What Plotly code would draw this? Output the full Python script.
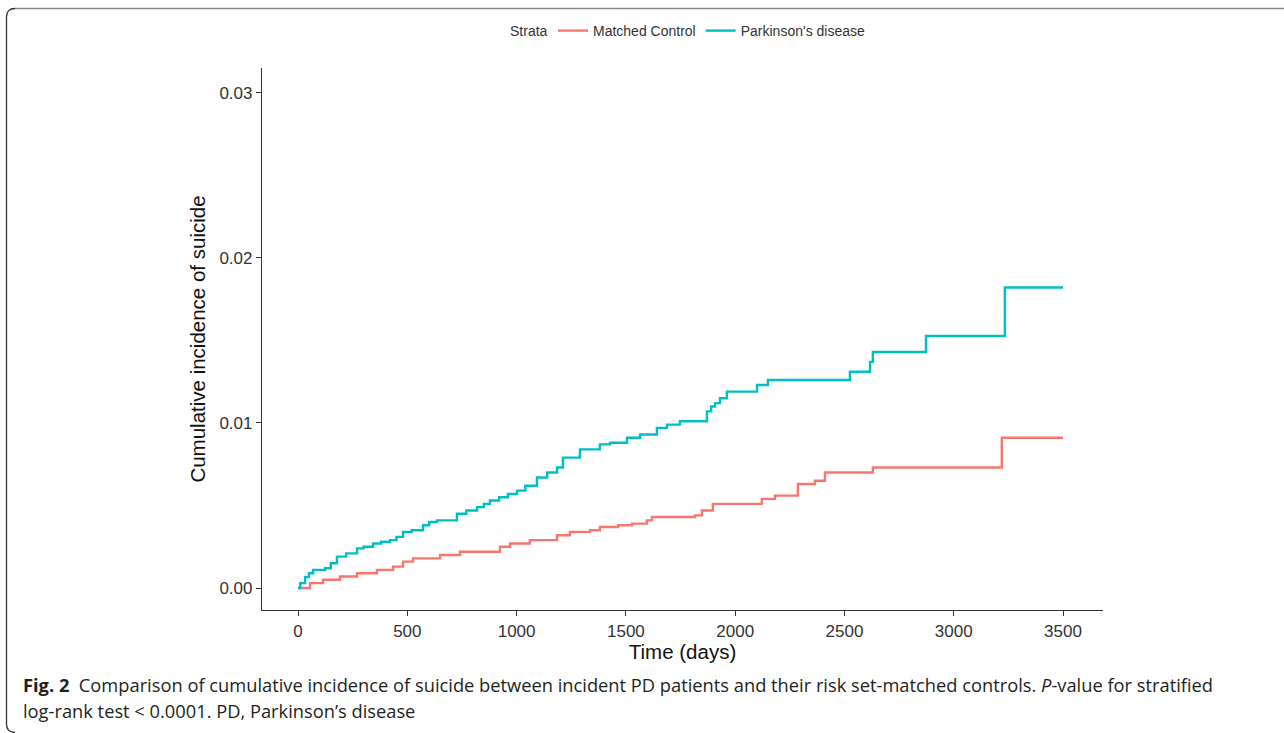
import plotly.graph_objects as go

W, H = 1284, 733

# Parkinson's disease cumulative incidence (step function)
pd_days = [0, 10, 32, 50, 69, 124, 150, 178, 220, 270, 300, 343, 380, 421, 450, 480, 520, 572,
           600, 636, 727, 770, 819, 850, 878, 920, 960, 1002, 1040, 1093, 1140, 1185, 1212, 1290,
           1381, 1427, 1505, 1565, 1642, 1688, 1747, 1871, 1890, 1908, 1930, 1962, 2100, 2150,
           2525, 2617, 2630, 2873, 3234, 3500]
pd_inc = [0, 0.0003, 0.00067, 0.0009, 0.0011, 0.0012, 0.0015, 0.0019, 0.0021, 0.0024, 0.0025,
          0.0027, 0.0028, 0.0029, 0.0031, 0.0034, 0.0035, 0.0038, 0.0040, 0.0041, 0.0045, 0.0047,
          0.0049, 0.0051, 0.0053, 0.0055, 0.0057, 0.0059, 0.0062, 0.0067, 0.0070, 0.0073, 0.0079,
          0.0084, 0.0087, 0.0088, 0.0091, 0.0093, 0.0097, 0.0099, 0.0101, 0.0107, 0.0110, 0.0112,
          0.0115, 0.0119, 0.0123, 0.0126, 0.0131, 0.0137, 0.0143, 0.01527, 0.0182, 0.0182]

# Matched control cumulative incidence (step function)
mc_days = [0, 55, 114, 192, 270, 361, 435, 480, 526, 650, 741, 924, 970, 1061, 1185, 1244, 1336,
           1381, 1464, 1528, 1596, 1619, 1816, 1848, 1898, 2122, 2182, 2287, 2365, 2411, 2630,
           3220, 3500]
mc_inc = [0, 0.0003, 0.0005, 0.0007, 0.0009, 0.0011, 0.0013, 0.0016, 0.0018, 0.0020, 0.0022,
          0.0025, 0.0027, 0.0029, 0.0032, 0.0034, 0.0035, 0.0037, 0.0038, 0.0039, 0.0041, 0.0043,
          0.0044, 0.0047, 0.0051, 0.0054, 0.0056, 0.0063, 0.0065, 0.0070, 0.0073, 0.0091, 0.0091]

x_ticks = [0, 500, 1000, 1500, 2000, 2500, 3000, 3500]
y_ticks = [0.00, 0.01, 0.02, 0.03]
y_tick_labels = ["0.00", "0.01", "0.02", "0.03"]

RED = "#F8766D"
TEAL = "#00BFC4"


def px(x):
    return x / W


def py(y):
    return 1 - y / H


fig = go.Figure()
fig.add_trace(go.Scatter(x=mc_days, y=mc_inc, mode="lines", line_shape="hv",
                         line=dict(color=RED, width=2.4), name="Matched Control"))
fig.add_trace(go.Scatter(x=pd_days, y=pd_inc, mode="lines", line_shape="hv",
                         line=dict(color=TEAL, width=2.4), name="Parkinson's disease"))

SANS = "Liberation Sans, Arial, sans-serif"
axis_font = dict(family=SANS, size=17, color="#333333")
title_font = dict(family=SANS, size=20.5, color="#111111")
fig.update_layout(
    width=W, height=H,
    margin=dict(l=0, r=0, t=0, b=0),
    paper_bgcolor="white", plot_bgcolor="white",
    font=dict(family=SANS, color="#222222"),
    xaxis=dict(domain=[px(262), px(1103)], range=[-165, 3683],
               tickvals=x_ticks, ticks="outside", ticklen=5, tickwidth=1, tickcolor="#333333",
               showline=True, linecolor="#333333", linewidth=1.2, showgrid=False, zeroline=False,
               tickfont=axis_font,
               title=dict(text="Time (days)", font=title_font, standoff=5)),
    yaxis=dict(domain=[py(610), py(68)], range=[-0.00133, 0.0315],
               tickvals=y_ticks, ticktext=y_tick_labels, ticks="outside", ticklen=5, tickwidth=1,
               tickcolor="#333333", showline=True, linecolor="#333333", linewidth=1.2,
               showgrid=False, zeroline=False, tickfont=axis_font,
               title=dict(text="Cumulative incidence of suicide", font=title_font, standoff=8)),
    legend=dict(orientation="h", x=px(553), xanchor="left", y=py(31), yanchor="middle",
                font=dict(family=SANS, size=14, color="#333333"),
                itemwidth=30, tracegroupgap=0),
    showlegend=True,
)

# Legend title
fig.add_annotation(xref="paper", yref="paper", x=px(529), y=py(31), xanchor="center",
                   yanchor="middle", showarrow=False, text="Strata",
                   font=dict(family=SANS, size=14, color="#333333"))

cap_font = dict(family="Open Sans, Noto Sans, sans-serif", size=18.3, color="#231f20")
fig.add_annotation(xref="paper", yref="paper", x=px(21), y=py(684), xanchor="left",
                   yanchor="middle", showarrow=False, font=cap_font,
                   text="<b>Fig. 2</b>  Comparison of cumulative incidence of suicide between incident PD "
                        "patients and their risk set-matched controls. <i>P</i>-value for stratified")
fig.add_annotation(xref="paper", yref="paper", x=px(21), y=py(710), xanchor="left",
                   yanchor="middle", showarrow=False, font=cap_font,
                   text="log-rank test < 0.0001. PD, Parkinson’s disease")

# Rounded frame around the figure
fig.add_shape(type="path", xref="paper", yref="paper",
              path=f"M {px(1284)},{py(8.5)} L {px(15)},{py(8.5)}",
              line=dict(color="#888888", width=1.5))
fig.add_shape(type="path", xref="paper", yref="paper",
              path=(f"M {px(15)},{py(8.5)} Q {px(6.5)},{py(8.5)} {px(6.5)},{py(17)} "
                    f"L {px(6.5)},{py(724)} Q {px(6.5)},{py(732)} {px(15)},{py(732.5)}"),
              line=dict(color="#333333", width=1.3))

fig.write_html("out.html", config={"displayModeBar": False},
               post_script="document.body.style.margin='0';document.body.style.overflow='hidden';")
